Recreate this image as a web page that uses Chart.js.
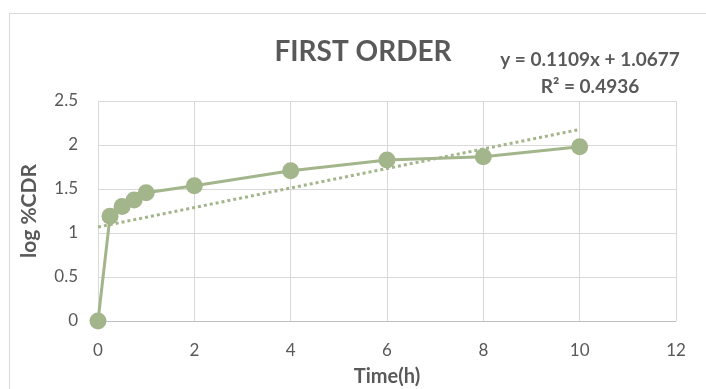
<!DOCTYPE html>
<html>
<head>
<meta charset="utf-8">
<script src="https://cdn.jsdelivr.net/npm/chart.js@4.4.1/dist/chart.umd.min.js"></script>
<style>
  html, body { margin: 0; padding: 0; background: #ffffff; }
  #wrap { position: relative; width: 706px; height: 389px; overflow: hidden; }
  #frame { position: absolute; left: 9px; top: 13px; width: 760px; height: 420px; border: 1px solid #d9d9d9; box-sizing: border-box; }
  canvas { position: absolute; left: 0; top: 0; }
</style>
</head>
<body>
<div id="wrap">
  <div id="frame"></div>
  <canvas id="c" width="706" height="389"></canvas>
</div>
<script>
// Release data: time (h) against log of cumulative % drug released
const timeHours = [0, 0.25, 0.5, 0.75, 1, 2, 4, 6, 8, 10];
const logCDR    = [0, 1.19, 1.30, 1.375, 1.458, 1.538, 1.708, 1.83, 1.867, 1.98];

// Linear trendline as stated by its equation label
const trendSlope = 0.1109;
const trendIntercept = 1.0677;
const trendR2 = 0.4936;
const trendRange = [0, 10];

const xTicks = [0, 2, 4, 6, 8, 10, 12];
const yTicks = [0, 0.5, 1, 1.5, 2, 2.5];

const GREEN = '#a3b58b';
const TEXT = '#595959';
const FONT = 'Lato, "Open Sans", sans-serif';

const trendPoints = trendRange.map(x => ({ x: x, y: trendSlope * x + trendIntercept }));

const annotations = {
  id: 'annotations',
  afterDraw(chart) {
    const ctx = chart.ctx;
    ctx.save();
    ctx.fillStyle = TEXT;
    ctx.textAlign = 'center';
    ctx.textBaseline = 'middle';
    ctx.font = 'bold 28px ' + FONT;
    ctx.fillText('FIRST ORDER', 363, 52);
    ctx.font = 'bold 19px ' + FONT;
    ctx.fillText('y = ' + trendSlope + 'x + ' + trendIntercept, 590, 60);
    ctx.fillText('R\u00b2 = ' + trendR2, 590, 87);
    ctx.restore();
  }
};

new Chart(document.getElementById('c'), {
  type: 'scatter',
  data: {
    datasets: [
      {
        label: 'log %CDR',
        data: timeHours.map((t, i) => ({ x: t, y: logCDR[i] })),
        showLine: true,
        borderColor: GREEN,
        backgroundColor: GREEN,
        borderWidth: 3,
        pointRadius: 8.5,
        pointBorderWidth: 0,
        clip: false,
        order: 1
      },
      {
        label: 'Linear trend',
        data: trendPoints,
        showLine: true,
        borderColor: GREEN,
        borderWidth: 3,
        borderDash: [3, 3],
        pointRadius: 0,
        clip: false,
        order: 2
      }
    ]
  },
  options: {
    responsive: false,
    animation: false,
    layout: { padding: { top: 101, right: 30, left: 0, bottom: 0 } },
    plugins: {
      legend: { display: false },
      tooltip: { enabled: false }
    },
    scales: {
      x: {
        type: 'linear',
        min: 0, max: 12,
        afterBuildTicks: s => { s.ticks = xTicks.map(v => ({ value: v })); },
        afterFit: s => { s.height = 68; },
        grid: { color: '#d9d9d9', lineWidth: 1, drawTicks: false },
        border: { display: false },
        ticks: { color: TEXT, font: { family: FONT, size: 17 }, padding: 19 },
        title: { display: true, text: 'Time(h)', color: TEXT, font: { family: FONT, size: 20, weight: 'bold' }, padding: { top: 0, bottom: 0 } }
      },
      y: {
        min: 0, max: 2.5,
        afterBuildTicks: s => { s.ticks = yTicks.map(v => ({ value: v })); },
        afterFit: s => { s.width = 98; },
        grid: { color: ctx => ctx.tick && ctx.tick.value === 0 ? '#bfbfbf' : '#d9d9d9', lineWidth: 1, drawTicks: false },
        border: { display: false },
        ticks: { color: TEXT, font: { family: FONT, size: 17 }, padding: 20, callback: v => String(v) },
        title: { display: true, text: 'log %CDR', color: TEXT, font: { family: FONT, size: 21, weight: 'bold' }, padding: { top: 17, bottom: 0 } }
      }
    }
  },
  plugins: [annotations]
});
</script>
</body>
</html>
